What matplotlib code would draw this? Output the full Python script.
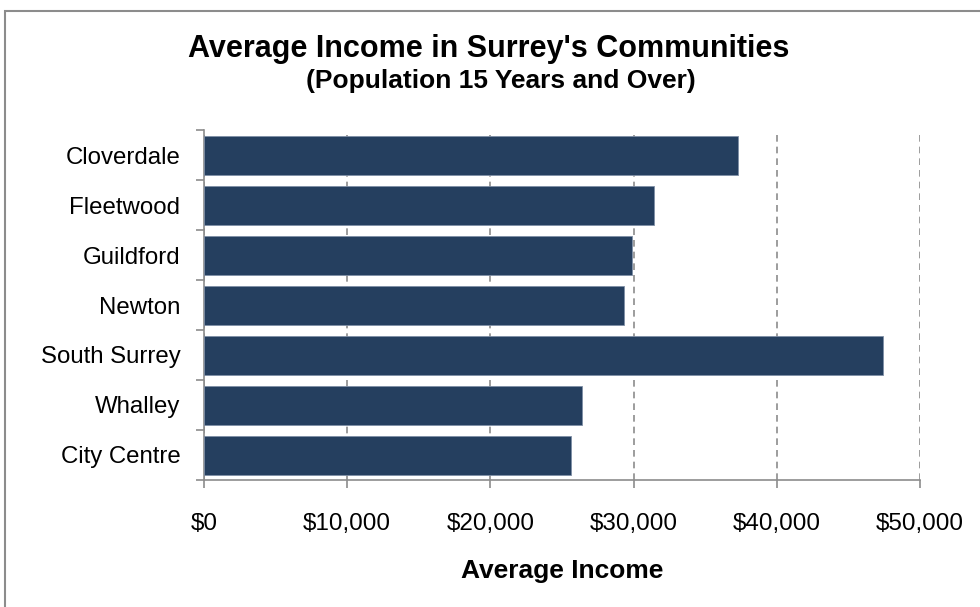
import matplotlib.pyplot as plt
from matplotlib.patches import Rectangle
from matplotlib.ticker import FuncFormatter

# average income by community, top to bottom
communities = ['Cloverdale', 'Fleetwood', 'Guildford', 'Newton',
               'South Surrey', 'Whalley', 'City Centre']
income = [37300, 31400, 29900, 29300, 47400, 26400, 25600]
xticks = [0, 10000, 20000, 30000, 40000, 50000]

plt.rcParams['font.family'] = ['Liberation Sans', 'DejaVu Sans']

fig = plt.figure(figsize=(9.8, 6.07), dpi=100)
W, H = 980, 607
ax = fig.add_axes([204 / W, 1 - 480 / H, (920 - 204) / W, (480 - 130) / H])

# gray frame around the chart area (left and top edges visible)
fig.patches.append(Rectangle((5 / W, -0.1), 1.2, 1 - 11 / H + 0.1,
                             transform=fig.transFigure, fill=False,
                             edgecolor='#8c8c8c', linewidth=1.5))

pos = list(range(len(communities)))
ax.barh(pos, income, height=0.78, color='#253f5f', edgecolor='#7f8fa6',
        linewidth=0.6, zorder=3)
ax.set_ylim(len(communities) - 0.5, -0.5)
ax.set_xlim(0, 50000)

ax.set_xticks(xticks)
ax.xaxis.set_major_formatter(FuncFormatter(lambda v, p: '${:,.0f}'.format(v)))
ax.set_yticks(pos)
ax.set_yticklabels(communities)
ax.set_yticks([p - 0.5 for p in range(len(communities) + 1)], minor=True)

ax.tick_params(axis='y', which='major', length=0, pad=17, labelsize=17.3)
ax.tick_params(axis='y', which='minor', length=6, color='#8c8c8c', width=1.2)
ax.tick_params(axis='x', length=6, color='#8c8c8c', width=1.2, pad=18,
               labelsize=17.5)

ax.grid(axis='x', linestyle=(0, (4, 3)), color='#8c8c8c', linewidth=1.2,
        zorder=0)
for s in ['top', 'right']:
    ax.spines[s].set_visible(False)
for s in ['left', 'bottom']:
    ax.spines[s].set_color('#8c8c8c')
    ax.spines[s].set_linewidth(1.2)

ax.set_xlabel('Average Income', fontsize=19, fontweight='bold', labelpad=17)

fig.text(489 / W, 1 - 49 / H, "Average Income in Surrey's Communities",
         ha='center', va='center', fontsize=22, fontweight='bold')
fig.text(501 / W, 1 - 81 / H, '(Population 15 Years and Over)',
         ha='center', va='center', fontsize=19, fontweight='bold')

fig.savefig('out.png', dpi=100)
